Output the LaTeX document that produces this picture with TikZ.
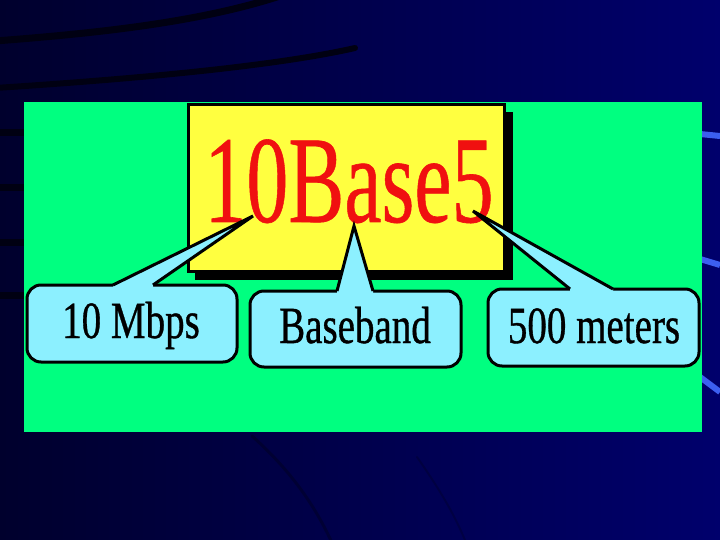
\documentclass[tikz,border=0pt]{standalone}
\usepackage{fontspec}
\setmainfont{Liberation Serif}
\newfontfamily\heavyserif[FakeBold=0.8]{Liberation Serif}
\newfontfamily\titleserif[FakeBold=0.5]{Liberation Serif}
\usepackage{graphicx}
\definecolor{navyL}{RGB}{0,0,45}
\definecolor{navyR}{RGB}{0,0,108}
\definecolor{darkcurve}{RGB}{0,0,18}
\definecolor{streak}{RGB}{60,95,240}
\definecolor{panelgreen}{RGB}{0,255,128}
\definecolor{titleyellow}{RGB}{255,255,64}
\definecolor{titlered}{RGB}{240,16,16}
\definecolor{calloutfill}{RGB}{140,240,255}
\begin{document}
\begin{tikzpicture}[x=1pt,y=-1pt,
  darkline/.style={draw=darkcurve, line cap=round},
  streakline/.style={draw=streak, line width=6pt},
  callout/.style={fill=calloutfill, draw=black, line width=3pt, rounded corners=14pt},
  ptrfill/.style={fill=calloutfill},
  ptredge/.style={draw=black, line width=3pt, line join=miter},
  lbl/.style={font=\heavyserif\fontsize{39}{39}\selectfont, anchor=base, inner sep=0pt, text=black}]
% background
\useasboundingbox (0,0) rectangle (720,540);
\shade[left color=navyL, right color=navyR, shading angle=90] (0,0) rectangle (720,540);
% dark curves
\draw[darkline, line width=7pt] (-5,41) .. controls (100,33) and (200,22) .. (280,-4);
\draw[darkline, line width=6pt] (-5,88) .. controls (150,78) and (280,65) .. (355,48);
\draw[darkline, line width=3pt, opacity=0.35] (252,436) .. controls (290,470) and (315,505) .. (333,545);
\draw[darkline, line width=2pt, opacity=0.25] (417,457) .. controls (440,490) and (455,515) .. (467,545);
% left stubs
\foreach \yy in {133,188,242,295} \draw[darkcurve, line width=7pt] (0,\yy) -- (26,\yy);
% right streaks
\draw[streakline] (700,134) -- (720,136);
\draw[streakline] (700,259) -- (720,265);
\draw[streakline] (700,377) -- (720,392);
% green panel
\fill[panelgreen] (24,102) rectangle (702,432);
% title box
\fill[black] (195,112) rectangle (513,280);
\draw[fill=titleyellow, draw=black, line width=3pt] (188,105) rectangle (504,271);
\node[anchor=base, inner sep=0pt, text=titlered, font=\titleserif\fontsize{84}{84}\selectfont] (title) at (349,222) {\scalebox{1}[1.48]{10Base5}};
% tips
\coordinate (tipA) at (253,216);
\coordinate (tipB) at (354,226);
\coordinate (tipC) at (473,211);
% callout 1
\draw[callout] (27,285) rectangle (237,362);
\fill[ptrfill] (113,285) -- (tipA) -- (153,285) -- (153,291) -- (113,291) -- cycle;
\draw[ptredge] (113,285) -- (tipA) -- (153,285);
\node[lbl] (mbps) at (131,338) {\scalebox{1}[1.34]{10 Mbps}};
% callout 2
\draw[callout] (250,291) rectangle (461,367);
\fill[ptrfill] (337,291) -- (tipB) -- (373,291) -- (373,297) -- (337,297) -- cycle;
\draw[ptredge] (337,291) -- (tipB) -- (373,291);
\node[lbl] (base) at (355,343) {\scalebox{1}[1.34]{Baseband}};
% callout 3
\draw[callout] (488,289) rectangle (699,366);
\fill[ptrfill] (570,289) -- (tipC) -- (613,289) -- (613,295) -- (570,295) -- cycle;
\draw[ptredge] (570,289) -- (tipC) -- (613,289);
\node[lbl] (meters) at (594,343) {\scalebox{1}[1.34]{500 meters}};
\end{tikzpicture}
\end{document}
